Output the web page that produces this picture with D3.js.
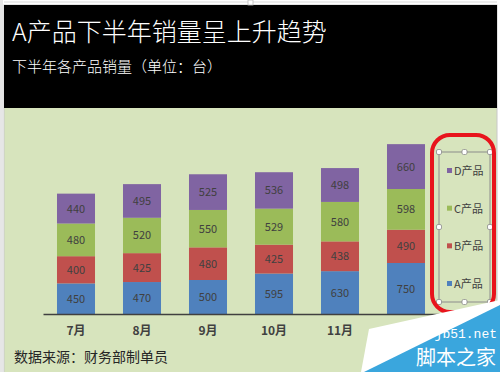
<!DOCTYPE html>
<html><head><meta charset="utf-8">
<script src="https://cdn.jsdelivr.net/npm/d3@7"></script>
<style>body{margin:0;background:#fff}svg{display:block}text{font-family:"Noto Sans CJK SC","Noto Sans",sans-serif}</style>
</head><body>
<script>
const months = ["7月","8月","9月","10月","11月","12月"];
const seriesNames = ["A产品","B产品","C产品","D产品"];
const seriesColors = ["#4f81bd","#c0504d","#9bbb59","#8064a2"];
const valuesA = [450,470,500,595,630,750];
const valuesB = [400,425,480,425,438,490];
const valuesC = [480,520,550,529,580,598];
const valuesD = [440,495,525,536,498,660];
const title = "A产品下半年销量呈上升趋势";
const subtitle = "下半年各产品销量（单位：台）";
const source = "数据来源：财务部制单员";

const W=500,H=372;
const svg=d3.select("body").append("svg").attr("width",W).attr("height",H);
svg.append("rect").attr("width",W).attr("height",H).attr("fill","#fff");
svg.append("rect").attr("x",0).attr("y",0).attr("width",3).attr("height",H).attr("fill","#e6e6e6");
// frame
svg.append("rect").attr("x",4).attr("y",5).attr("width",493).attr("height",370).attr("fill","#d7e4bd").attr("stroke","#c8c8c8");
svg.append("rect").attr("x",4).attr("y",5).attr("width",493).attr("height",103).attr("fill","#000");
svg.append("line").attr("x1",4).attr("x2",497).attr("y1",2).attr("y2",2).attr("stroke","#d9d9d9");
svg.append("text").attr("x",12).attr("y",41).attr("fill","#fff").attr("font-size",25).attr("font-weight",300).text(title);
svg.append("text").attr("x",12).attr("y",72).attr("fill","#fff").attr("font-size",15).attr("font-weight",300).text(subtitle);

const rows = months.map((m,i)=>({month:m,"A产品":valuesA[i],"B产品":valuesB[i],"C产品":valuesC[i],"D产品":valuesD[i]}));
const stack = d3.stack().keys(seriesNames)(rows);
const x = d3.scaleBand().domain(months).range([43,439]).paddingInner(0.424).paddingOuter(0.212);
const y = d3.scaleLinear().domain([0,3000]).range([314,110]);
const color = d3.scaleOrdinal().domain(seriesNames).range(seriesColors);

const g = svg.append("g");
stack.forEach(s=>{
  const layer = g.append("g");
  layer.selectAll("rect").data(s).join("rect")
    .attr("x",d=>x(d.data.month)).attr("width",x.bandwidth())
    .attr("y",d=>y(d[1])).attr("height",d=>y(d[0])-y(d[1]))
    .attr("fill",color(s.key));
  layer.selectAll("text").data(s).join("text")
    .attr("x",d=>x(d.data.month)+x.bandwidth()/2)
    .attr("y",d=>(y(d[0])+y(d[1]))/2+4)
    .attr("text-anchor","middle").attr("font-size",11).attr("fill","#404040")
    .text(d=>d[1]-d[0]);
});

const xAxis = svg.append("g").attr("transform","translate(0,314)").call(d3.axisBottom(x).tickSize(0).tickPadding(12));
xAxis.select(".domain").attr("stroke","#404040").attr("stroke-width",1.5);
xAxis.selectAll("text").attr("font-size",12).attr("font-weight","bold").attr("fill","#404040")
  .style("font-family","'Noto Sans CJK SC',sans-serif");

// legend
const lg = svg.append("g");
lg.append("rect").attr("x",439).attr("y",152).attr("width",51).attr("height",150).attr("fill","none").attr("stroke","#8c8c8c");
const legY = d3.scalePoint().domain(seriesNames.slice().reverse()).range([171,284]);
seriesNames.forEach(n=>{
  lg.append("rect").attr("x",447).attr("y",legY(n)-3).attr("width",5).attr("height",5).attr("fill",color(n));
  lg.append("text").attr("x",454).attr("y",legY(n)+4).attr("font-size",11).attr("fill","#404040").text(n);
});
const handles=[[439,152],[464.5,152],[490,152],[439,227],[490,227],[439,302],[464.5,302],[490,302]];
handles.forEach(([hx,hy])=>lg.append("rect").attr("x",hx-2.5).attr("y",hy-2.5).attr("width",5).attr("height",5).attr("rx",1.5)
  .attr("fill","#fff").attr("stroke","#8c8c8c").attr("stroke-width",0.8));
svg.append("rect").attr("x",432).attr("y",135).attr("width",62).attr("height",177).attr("rx",18)
  .attr("fill","none").attr("stroke","#e8141c").attr("stroke-width",4);
svg.append("rect").attr("x",248).attr("y",0).attr("width",5).attr("height",5).attr("fill","#fff").attr("stroke","#bbb").attr("stroke-width",0.8);

svg.append("text").attr("x",14).attr("y",362).attr("font-size",14).attr("fill","#262626").text(source);

// watermark
svg.append("polygon").attr("points","361,372 369,329 500,300 500,372").attr("fill","#fff");
svg.append("polygon").attr("points","364,372 500,305 500,372").attr("fill","#3aa6dd");
svg.append("text").attr("x",497).attr("y",338).attr("text-anchor","end").attr("font-size",13).attr("fill","#fff")
  .style("font-family","'Liberation Mono','DejaVu Sans Mono',monospace").text("jb51.net");
svg.append("text").attr("x",496).attr("y",365).attr("text-anchor","end").attr("font-size",20).attr("fill","#fff").text("脚本之家");
</script>
</body></html>
